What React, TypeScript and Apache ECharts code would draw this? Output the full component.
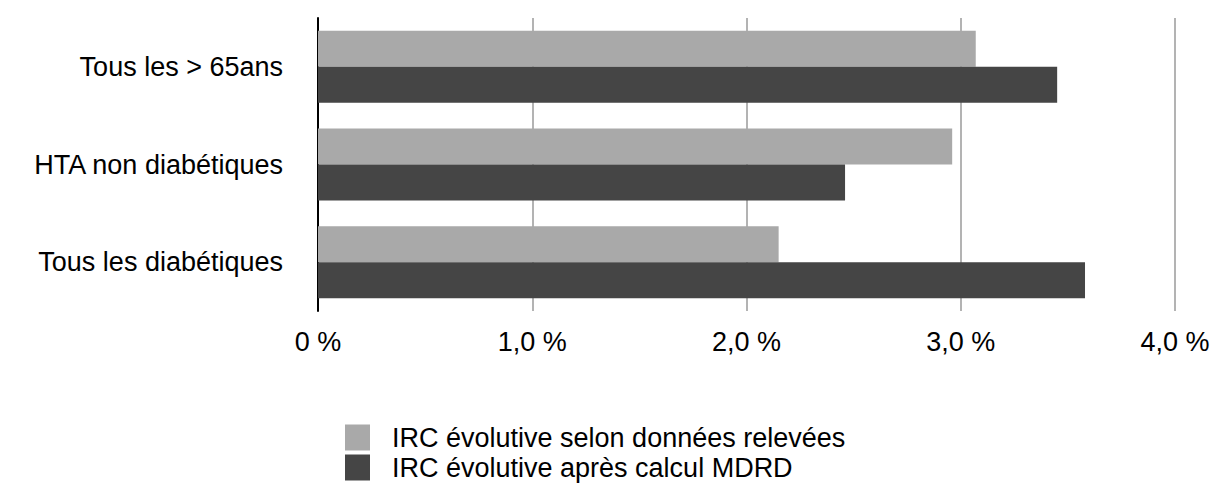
import React, { useEffect, useRef } from "react";
import * as echarts from "echarts";

const categories = ["Tous les > 65ans", "HTA non diabétiques", "Tous les diabétiques"];
const seriesNames = ["IRC évolutive selon données relevées", "IRC évolutive après calcul MDRD"];
const releveValues = [3.07, 2.96, 2.15];
const mdrdValues = [3.45, 2.46, 3.58];
const xTicks = [0, 1, 2, 3, 4];
const colors = ["#a9a9a9", "#454545"];

const FONT = "'Liberation Sans', Arial, sans-serif";

export default function App() {
  const ref = useRef<HTMLDivElement>(null);
  useEffect(() => {
    const chart = echarts.init(ref.current!, null, { renderer: "svg" });
    const legendCommon = {
      orient: "vertical",
      left: 340,
      itemWidth: 25,
      itemHeight: 26,
      icon: "rect",
      textStyle: { fontSize: 27, color: "#000", fontFamily: FONT, padding: [0, 0, 0, 17] },
    };
    chart.setOption({
      animation: false,
      color: colors,
      textStyle: { fontFamily: FONT },
      grid: { left: 318, right: 40, top: 18, height: 293 },
      legend: [
        { ...legendCommon, top: 419, data: [seriesNames[0]] },
        { ...legendCommon, top: 449, data: [seriesNames[1]] },
      ],
      xAxis: {
        type: "value",
        min: xTicks[0],
        max: xTicks[xTicks.length - 1],
        interval: 1,
        axisLine: { show: false },
        axisTick: { show: false },
        splitLine: { show: true, lineStyle: { color: "#b3b3b3", width: 2 } },
        axisLabel: {
          fontSize: 27,
          color: "#000",
          margin: 17,
          formatter: (v: number) => (v === 0 ? "0 %" : v.toFixed(1).replace(".", ",") + " %"),
        },
      },
      yAxis: {
        type: "category",
        data: categories,
        inverse: true,
        axisLine: { show: true, lineStyle: { color: "#000", width: 2 } },
        axisTick: { show: false },
        axisLabel: { fontSize: 27, color: "#000", margin: 35 },
      },
      series: [
        {
          name: seriesNames[0],
          type: "bar",
          data: releveValues,
          barWidth: 36,
          barGap: "0%",
          itemStyle: { color: colors[0] },
        },
        {
          name: seriesNames[1],
          type: "bar",
          data: mdrdValues,
          barWidth: 36,
          barGap: "0%",
          itemStyle: { color: colors[1] },
        },
      ],
    });
    return () => chart.dispose();
  }, []);
  return (
    <div
      ref={ref}
      style={{ position: "absolute", left: 0, top: 0, width: 1215, height: 483 }}
    />
  );
}
